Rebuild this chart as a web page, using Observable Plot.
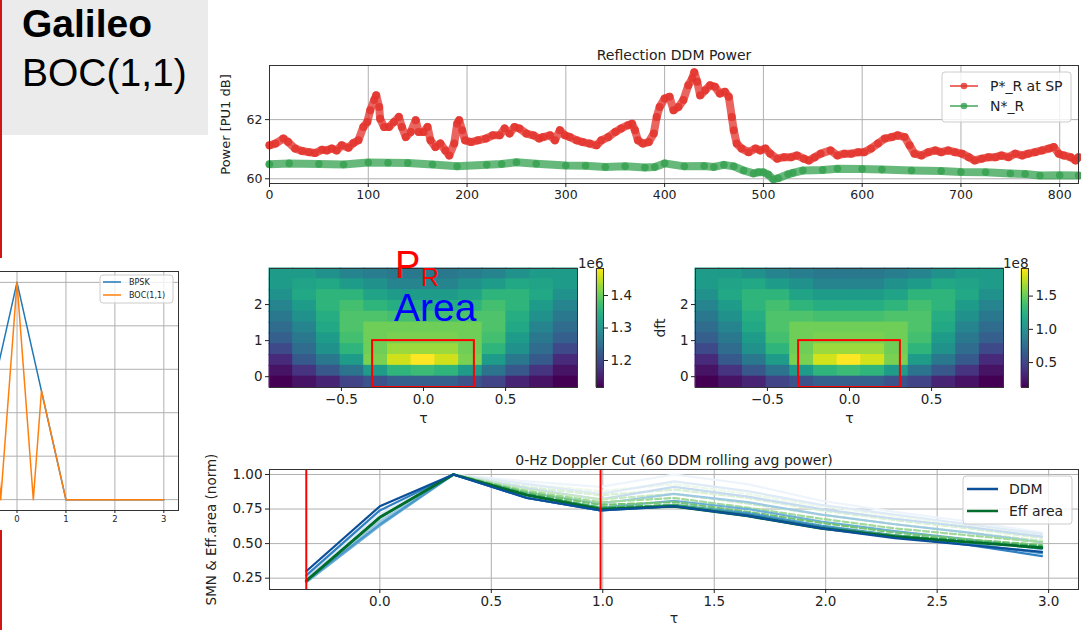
<!DOCTYPE html>
<html><head><meta charset="utf-8">
<script src="https://cdn.jsdelivr.net/npm/d3@7"></script>
<script src="https://cdn.jsdelivr.net/npm/@observablehq/plot@0.6"></script>
<style>
html,body{margin:0;padding:0;background:#fff;}
#page{position:relative;width:1081px;height:630px;overflow:hidden;background:#fff;}
#page svg{max-width:none !important;}
</style></head>
<body><div id="page"></div>
<script>
// ---------------- DATA ----------------
// Top panel: Reflection DDM Power  [sample index, dB]
const reflectedPower = [[0,61.13],[6,61.19],[14,61.36],[19,61.24],[26,61.02],[33,60.94],[40,60.90],[46,60.87],[53,60.98],[58,60.96],[63,61.02],[68,60.96],[73,61.13],[80,61.05],[85,61.21],[90,61.30],[95,61.75],[99,61.92],[102,62.32],[106,62.66],[108,62.82],[111,62.43],[112,62.03],[116,61.75],[121,61.75],[126,61.92],[131,62.09],[134,61.75],[138,61.41],[143,61.58],[148,61.98],[151,61.58],[156,61.58],[160,61.75],[163,61.30],[168,61.07],[173,61.19],[178,60.96],[182,60.79],[187,61.19],[190,61.86],[192,61.98],[195,61.64],[198,61.30],[204,61.24],[211,61.30],[219,61.36],[226,61.47],[233,61.47],[238,61.70],[243,61.53],[248,61.75],[253,61.70],[260,61.53],[267,61.47],[273,61.36],[277,61.41],[284,61.47],[289,61.30],[294,61.64],[299,61.47],[304,61.41],[311,61.30],[317,61.24],[324,61.19],[331,61.13],[336,61.30],[343,61.41],[350,61.58],[356,61.70],[363,61.81],[367,61.86],[370,61.64],[373,61.30],[378,61.19],[384,61.24],[389,61.53],[392,62.09],[395,62.43],[400,62.71],[405,62.77],[409,62.32],[414,62.43],[419,62.66],[424,63.16],[428,63.39],[430,63.60],[433,63.28],[436,62.82],[441,62.99],[446,63.16],[451,63.11],[456,62.88],[461,62.94],[465,62.77],[468,62.09],[470,61.64],[473,61.19],[478,61.02],[485,60.90],[492,61.02],[497,60.96],[502,61.02],[507,60.85],[514,60.68],[521,60.73],[528,60.73],[534,60.79],[541,60.68],[546,60.62],[552,60.73],[558,60.85],[568,60.96],[575,60.79],[582,60.85],[589,60.85],[596,60.90],[602,60.90],[609,61.02],[616,61.19],[623,61.36],[630,61.41],[636,61.47],[643,61.41],[648,61.13],[653,60.85],[660,60.79],[667,60.90],[674,60.96],[680,60.90],[687,60.96],[694,60.90],[701,60.85],[708,60.73],[714,60.62],[721,60.68],[728,60.73],[735,60.73],[741,60.79],[748,60.73],[755,60.85],[762,60.79],[768,60.85],[775,60.90],[782,60.96],[789,61.02],[794,61.07],[799,60.85],[804,60.79],[811,60.73],[816,60.62],[819,60.73]];
const noisePower = [[0,60.49],[20,60.52],[50,60.50],[75,60.48],[100,60.55],[120,60.54],[140,60.53],[165,60.48],[190,60.42],[220,60.47],[235,60.50],[250,60.56],[270,60.51],[300,60.45],[320,60.44],[340,60.40],[360,60.42],[380,60.38],[390,60.40],[400,60.52],[420,60.42],[440,60.43],[450,60.40],[460,60.47],[470,60.42],[480,60.28],[490,60.18],[495,60.22],[500,60.22],[505,60.14],[510,59.98],[515,60.02],[525,60.15],[530,60.20],[540,60.28],[560,60.30],[575,60.34],[600,60.33],[620,60.31],[650,60.28],[680,60.26],[700,60.23],[725,60.22],[750,60.18],[765,60.16],[780,60.11],[800,60.12],[819,60.11]];
const topXTicks = [0,100,200,300,400,500,600,700,800];
const topYTicks = [60,62];

// Middle panels: DDM heatmaps (rows top -> bottom)
const hmTau = [-0.866,-0.722,-0.577,-0.433,-0.289,-0.144,0,0.144,0.289,0.433,0.577,0.722,0.866];
const hmDft = [2.85,2.55,2.25,1.95,1.65,1.35,1.05,0.75,0.45,0.15,-0.15];
const ddmPower1e6 = [
 [1.318,1.318,1.300,1.282,1.271,1.263,1.263,1.263,1.271,1.282,1.300,1.318,1.318],
 [1.318,1.329,1.337,1.318,1.300,1.282,1.282,1.282,1.300,1.318,1.337,1.329,1.318],
 [1.300,1.337,1.355,1.355,1.329,1.318,1.318,1.318,1.329,1.355,1.355,1.337,1.300],
 [1.282,1.318,1.355,1.373,1.355,1.344,1.344,1.344,1.355,1.373,1.355,1.318,1.282],
 [1.263,1.300,1.344,1.381,1.381,1.373,1.373,1.373,1.381,1.381,1.344,1.300,1.263],
 [1.245,1.282,1.337,1.381,1.402,1.402,1.402,1.402,1.402,1.381,1.337,1.282,1.245],
 [1.227,1.263,1.318,1.373,1.402,1.410,1.410,1.410,1.402,1.373,1.318,1.263,1.227],
 [1.198,1.245,1.300,1.355,1.402,1.428,1.428,1.428,1.402,1.355,1.300,1.245,1.198],
 [1.161,1.219,1.263,1.318,1.410,1.457,1.483,1.457,1.410,1.318,1.263,1.219,1.161],
 [1.135,1.172,1.216,1.256,1.318,1.355,1.366,1.355,1.318,1.256,1.216,1.172,1.135],
 [1.117,1.135,1.154,1.190,1.209,1.227,1.227,1.227,1.209,1.190,1.154,1.135,1.117]];
const ddmPower1e8 = [
 [1.110,1.110,1.020,0.931,0.877,0.841,0.841,0.841,0.877,0.931,1.020,1.110,1.110],
 [1.110,1.163,1.199,1.110,1.020,0.931,0.931,0.931,1.020,1.110,1.199,1.163,1.110],
 [1.020,1.199,1.289,1.289,1.163,1.110,1.110,1.110,1.163,1.289,1.289,1.199,1.020],
 [0.931,1.110,1.289,1.378,1.289,1.235,1.235,1.235,1.289,1.378,1.289,1.110,0.931],
 [0.841,1.020,1.235,1.414,1.414,1.378,1.378,1.378,1.414,1.414,1.235,1.020,0.841],
 [0.752,0.931,1.199,1.414,1.521,1.521,1.521,1.521,1.521,1.414,1.199,0.931,0.752],
 [0.662,0.841,1.110,1.378,1.521,1.557,1.557,1.557,1.521,1.378,1.110,0.841,0.662],
 [0.519,0.752,1.020,1.289,1.521,1.647,1.647,1.647,1.521,1.289,1.020,0.752,0.519],
 [0.340,0.626,0.841,1.110,1.557,1.790,1.915,1.790,1.557,1.110,0.841,0.626,0.340],
 [0.215,0.394,0.608,0.805,1.110,1.289,1.342,1.289,1.110,0.805,0.608,0.394,0.215],
 [0.125,0.215,0.304,0.483,0.573,0.662,0.662,0.662,0.573,0.483,0.304,0.215,0.125]];
const cbar1Domain = [1.117, 1.483], cbar1Ticks = [1.2, 1.3, 1.4];
const cbar2Domain = [0.125, 1.915], cbar2Ticks = [0.5, 1.0, 1.5];
const effAreaBox = [{tau0:-0.31, tau1:0.31, dft0:-0.3, dft1:1.0}];
const hmXTicks = [-0.5, 0, 0.5], hmYTicks = [0, 1, 2];

// Bottom panel: 0-Hz Doppler cut
const cutTau = [-0.33,0,0.33,0.66,0.99,1.32,1.65,1.98,2.31,2.64,2.97];
const ddmCuts = [
 [0.26,0.70,1.00,0.95,0.91,1.00,0.93,0.81,0.73,0.66,0.58],
 [0.27,0.71,1.00,0.93,0.86,0.95,0.88,0.78,0.71,0.64,0.57],
 [0.25,0.68,1.00,0.90,0.82,0.91,0.84,0.75,0.68,0.62,0.55],
 [0.24,0.66,1.00,0.87,0.79,0.86,0.80,0.71,0.64,0.58,0.51],
 [0.22,0.63,1.00,0.85,0.76,0.81,0.75,0.66,0.59,0.53,0.46],
 [0.23,0.64,1.00,0.83,0.74,0.78,0.72,0.63,0.56,0.50,0.43],
 [0.27,0.74,1.00,0.83,0.74,0.77,0.71,0.62,0.55,0.49,0.41],
 [0.30,0.77,1.00,0.83,0.74,0.77,0.70,0.61,0.54,0.49,0.44]];
const effCuts = [
 [0.23,0.69,1.00,0.93,0.88,0.93,0.86,0.77,0.70,0.63,0.56],
 [0.23,0.69,1.00,0.91,0.85,0.89,0.83,0.74,0.67,0.61,0.54],
 [0.23,0.69,1.00,0.89,0.82,0.86,0.79,0.71,0.64,0.58,0.52],
 [0.23,0.69,1.00,0.88,0.80,0.83,0.76,0.68,0.61,0.56,0.51],
 [0.23,0.69,1.00,0.87,0.78,0.80,0.73,0.65,0.58,0.53,0.49],
 [0.23,0.69,1.00,0.86,0.76,0.78,0.71,0.62,0.56,0.52,0.48],
 [0.23,0.69,1.00,0.85,0.75,0.77,0.70,0.61,0.55,0.51,0.47]];
const ddmColors = ["#eef4fb","#deebf7","#c6dbef","#9ecae1","#6baed6","#4a98cc","#2f7fc1","#0b4f99"];
const effColors = ["#edf8e9","#d9f0d3","#c7e9c0","#a1d99b","#74c476","#41ab5d","#006d2c"];
const cutMarkers = [-0.33, 0.99];
const cutXTicks = [0,0.5,1,1.5,2,2.5,3], cutYTicks = [0.25,0.5,0.75,1.0];

// Left panel: autocorrelation BPSK vs BOC(1,1)
const acfTau = {bpsk:[-3,-1,0,1,3], boc:[-3,-1,-0.5,-0.333,0,0.333,0.5,1,3]};
const acfVal = {bpsk:[0,0,1,0,0], boc:[0,0,0.5,0,1,0,0.5,0,0]};
const acfXTicks = [0,1,2,3];

// ---------------- RENDER ----------------
const page = document.getElementById("page");
const FONT = '"DejaVu Sans", sans-serif';
const GRID = "#b0b0b0";
const RED = "#e3312a", GREEN = "#34a04f";
const style = (fs) => ({background:"transparent", fontFamily:FONT, fontSize:fs+"px", color:"#222", overflow:"visible", maxWidth:"none"});
function place(node, left, top, parent){ node.style.position="absolute"; node.style.left=left+"px"; node.style.top=top+"px"; node.style.maxWidth="none"; (parent||page).appendChild(node); return node; }
const minusFmt = d => (d<0?"\u2212":"") + Math.abs(d).toFixed(1);

// Top panel
const refl = reflectedPower.map(([x,y])=>({x,y}));
const noise = noisePower.map(([x,y])=>({x,y}));
place(Plot.plot({
  width:891, height:172, marginLeft:79, marginRight:3, marginTop:30, marginBottom:24,
  style:style(12.5), x:{domain:[0,819]}, y:{domain:[59.84,63.83]},
  marks:[
    Plot.gridX(topXTicks,{stroke:GRID, strokeOpacity:1}),
    Plot.gridY(topYTicks,{stroke:GRID, strokeOpacity:1}),
    Plot.line(noise,{x:"x",y:"y",stroke:GREEN,strokeWidth:8,strokeOpacity:0.75}),
    Plot.dot(noise,{x:"x",y:"y",r:3.8,fill:GREEN,fillOpacity:0.8}),
    Plot.line(refl,{x:"x",y:"y",stroke:RED,strokeWidth:8,strokeOpacity:0.75}),
    Plot.dot(refl,{x:"x",y:"y",r:4,fill:RED,fillOpacity:0.8}),
    Plot.frame({stroke:"#333"}),
    Plot.axisX(topXTicks,{tickSize:4, tickPadding:3, label:null}),
    Plot.axisY(topYTicks,{tickSize:4, tickPadding:3, label:null}),
    Plot.text(["Power [PU1 dB]"],{frameAnchor:"left", textAnchor:"middle", rotate:-90, dx:-44, fontSize:13}),
    Plot.text(["Reflection DDM Power"],{frameAnchor:"top", dy:-15, fontSize:14})
  ]
}), 190, 35);

// Heatmaps
function heatCells(grid){
  const ht=(hmTau[1]-hmTau[0])/2, hd=(hmDft[0]-hmDft[1])/2, out=[];
  grid.forEach((row,r)=>row.forEach((v,c)=>out.push({x1:hmTau[c]-ht,x2:hmTau[c]+ht,y1:hmDft[r]-hd,y2:hmDft[r]+hd,v})));
  return out;
}
function heatmap(grid, domain, ylabel){
  return Plot.plot({
    width:343, height:175, marginLeft:30, marginRight:5, marginTop:10, marginBottom:46,
    style:style(13.5), x:{domain:[-0.938,0.938]}, y:{domain:[-0.3,3.0]},
    color:{type:"linear", scheme:"viridis", domain},
    marks:[
      Plot.rect(heatCells(grid),{x1:"x1",x2:"x2",y1:"y1",y2:"y2",fill:"v",inset:-0.5}),
      Plot.rect(effAreaBox,{x1:"tau0",x2:"tau1",y1:"dft0",y2:"dft1",fill:"none",stroke:"#ff0000",strokeWidth:2}),
      Plot.frame({stroke:"#333"}),
      Plot.axisX(hmXTicks,{tickSize:4, tickPadding:3, tickFormat:minusFmt, label:null}),
      Plot.axisY(hmYTicks,{tickSize:4, tickPadding:3, label:null}),
      Plot.text(["τ"],{frameAnchor:"bottom", dy:35, fontSize:14}),
      ylabel ? Plot.text([ylabel],{frameAnchor:"left", textAnchor:"middle", rotate:-90, dx:-35, fontSize:14}) : null
    ]
  });
}
function colorbar(domain, ticks, exp){
  const n=120, slices=d3.range(n).map(i=>({a:domain[0]+(domain[1]-domain[0])*i/n, b:domain[0]+(domain[1]-domain[0])*(i+1)/n}));
  return Plot.plot({
    width:50, height:139, marginLeft:0, marginRight:43, marginTop:10, marginBottom:10,
    style:style(13.5), x:{domain:[0,1], axis:null}, y:{domain},
    color:{type:"linear", scheme:"viridis", domain},
    marks:[
      Plot.rect(slices,{x1:0,x2:1,y1:"a",y2:"b",fill:d=>(d.a+d.b)/2,inset:-0.3}),
      Plot.frame({stroke:"#333"}),
      Plot.axisY(ticks,{anchor:"right", tickSize:4, tickPadding:3, tickFormat:d=>d.toFixed(1), label:null}),
      Plot.text([exp],{frameAnchor:"top-right", dy:-10, textAnchor:"end", fontSize:13.5})
    ]
  });
}
place(heatmap(ddmPower1e6, cbar1Domain, null), 239, 258);
place(colorbar(cbar1Domain, cbar1Ticks, "1e6"), 596, 258);
place(heatmap(ddmPower1e8, cbar2Domain, "dft"), 665, 258);
place(colorbar(cbar2Domain, cbar2Ticks, "1e8"), 1021, 258);

// Bottom panel
const cutMarks = [];
ddmCuts.forEach((s,i)=>{
  cutMarks.push(Plot.line(cutTau.map((t,j)=>({t,v:s[j]})),{x:"t",y:"v",stroke:ddmColors[i],strokeWidth:2.2}));
  if (i < effCuts.length) {
    const last = i === effCuts.length-1;
    cutMarks.push(Plot.line(cutTau.map((t,j)=>({t,v:effCuts[i][j]})),{x:"t",y:"v",stroke:effColors[i],strokeWidth:last?2.8:2.2,strokeDasharray:last?null:"6,3"}));
  }
});
place(Plot.plot({
  width:891, height:190, marginLeft:79, marginRight:3, marginTop:29, marginBottom:41,
  style:style(13.5), x:{domain:[-0.495,3.134]}, y:{domain:[0.168,1.036]},
  marks:[
    Plot.gridX(cutXTicks,{stroke:GRID, strokeOpacity:1}),
    Plot.gridY(cutYTicks,{stroke:GRID, strokeOpacity:1}),
    ...cutMarks,
    Plot.ruleX(cutMarkers,{stroke:"#ff0000", strokeWidth:2}),
    Plot.frame({stroke:"#333"}),
    Plot.axisX(cutXTicks,{tickSize:4, tickPadding:3, tickFormat:d=>d.toFixed(1), label:null}),
    Plot.axisY(cutYTicks,{tickSize:4, tickPadding:3, tickFormat:d=>d.toFixed(2), label:null}),
    Plot.text(["SMN & Eff.area (norm)"],{frameAnchor:"left", textAnchor:"middle", rotate:-90, dx:-58, fontSize:13.5}),
    Plot.text(["τ"],{frameAnchor:"bottom", dy:33, fontSize:14}),
    Plot.text(["0-Hz Doppler Cut (60 DDM rolling avg power)"],{frameAnchor:"top", dy:-14, fontSize:14})
  ]
}), 190, 440);

// Left panel (clipped)
const clip = document.createElement("div");
clip.style.cssText="position:absolute;left:0;top:258px;width:183px;height:272px;overflow:hidden;";
page.appendChild(clip);
const bp = acfTau.bpsk.map((t,i)=>({t,v:acfVal.bpsk[i]}));
const bc = acfTau.boc.map((t,i)=>({t,v:acfVal.boc[i]}));
place(Plot.plot({
  width:323, height:272, marginLeft:0, marginRight:0, marginTop:13, marginBottom:20,
  style:style(8.5), x:{domain:[-3.3,3.3]}, y:{domain:[-0.05,1.05], axis:null},
  marks:[
    Plot.gridX([-3,-2,-1,0,1,2,3],{stroke:GRID, strokeOpacity:1}),
    Plot.gridY([0,0.2,0.4,0.6,0.8,1.0],{stroke:GRID, strokeOpacity:1}),
    Plot.line(bp,{x:"t",y:"v",stroke:"#1f77b4",strokeWidth:1.5}),
    Plot.line(bc,{x:"t",y:"v",stroke:"#ff7f0e",strokeWidth:1.5}),
    Plot.frame({stroke:"#333"}),
    Plot.axisX(acfXTicks,{tickSize:3, tickPadding:2, label:null})
  ]
}), -145, 0, clip);

// Overlay: header, annotations, legends
const svg = d3.create("svg").attr("width",1081).attr("height",630)
  .style("position","absolute").style("left","0px").style("top","0px").style("overflow","visible");
svg.append("rect").attr("x",0).attr("y",0).attr("width",208).attr("height",135).attr("fill","#ebebeb");
svg.append("rect").attr("x",0).attr("y",0).attr("width",2).attr("height",258).attr("fill","#d01515");
svg.append("rect").attr("x",0).attr("y",530).attr("width",2).attr("height",100).attr("fill","#d01515");
const sans = '"Liberation Sans", Arial, sans-serif';
svg.append("text").attr("x",22).attr("y",37).attr("font-family",sans).attr("font-weight","bold").attr("font-size",39).attr("fill","#000").text("Galileo");
svg.append("text").attr("x",22).attr("y",86).attr("font-family",sans).attr("font-size",39).attr("fill","#000").text("BOC(1,1)");
svg.append("text").attr("x",395).attr("y",278).attr("font-family",sans).attr("font-size",38).attr("fill","#ff0000").text("P");
svg.append("text").attr("x",421).attr("y",286).attr("font-family",sans).attr("font-size",25).attr("fill","#ff0000").text("R");
svg.append("text").attr("x",394).attr("y",321).attr("font-family",sans).attr("font-size",39).attr("fill","#0000ff").text("Area");

function legend(box, entries, fs){
  svg.append("rect").attr("x",box[0]).attr("y",box[1]).attr("width",box[2]).attr("height",box[3]).attr("rx",3)
    .attr("fill","#fff").attr("fill-opacity",0.8).attr("stroke","#cccccc");
  for (const e of entries){
    svg.append("line").attr("x1",e.x0).attr("x2",e.x1).attr("y1",e.y).attr("y2",e.y).attr("stroke",e.color).attr("stroke-width",e.w).attr("stroke-opacity",e.op||1);
    if (e.dot) svg.append("circle").attr("cx",(e.x0+e.x1)/2).attr("cy",e.y).attr("r",3.3).attr("fill",e.color).attr("fill-opacity",0.8);
    svg.append("text").attr("x",e.tx).attr("y",e.y).attr("dy","0.35em").attr("font-family",FONT).attr("font-size",fs).attr("fill","#222").text(e.label);
  }
}
legend([942,72,129,50],[
  {x0:950,x1:978,y:86,color:RED,w:2,op:0.7,dot:true,tx:990,label:"P*_R at SP"},
  {x0:950,x1:978,y:106,color:GREEN,w:2,op:0.7,dot:true,tx:990,label:"N*_R"}],14);
legend([963,476,109,48],[
  {x0:967,x1:998,y:489,color:"#0b4f99",w:2.5,tx:1009,label:"DDM"},
  {x0:967,x1:998,y:511,color:"#006d2c",w:2.5,tx:1009,label:"Eff area"}],14);
legend([100,275,73,28],[
  {x0:103,x1:121,y:282,color:"#1f77b4",w:1.5,tx:129,label:"BPSK"},
  {x0:103,x1:121,y:295,color:"#ff7f0e",w:1.5,tx:129,label:"BOC(1,1)"}],8);
page.appendChild(svg.node());
</script></body></html>
